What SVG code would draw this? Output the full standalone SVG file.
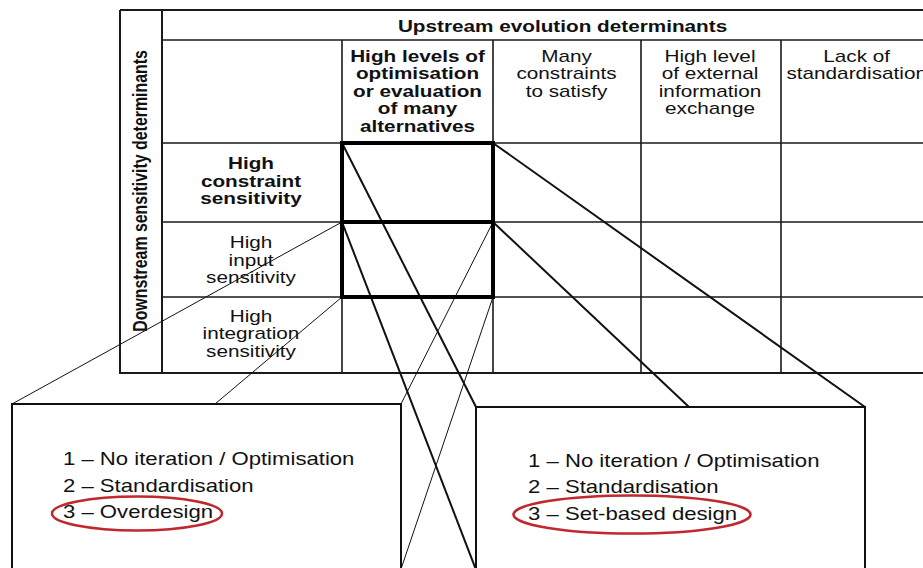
<svg xmlns="http://www.w3.org/2000/svg" width="923" height="568" viewBox="0 0 923 568">
  <style>
    .grid { stroke: #1a1a1a; stroke-width: 1.6; fill: none; }
    .frame { stroke: #1a1a1a; stroke-width: 2; fill: none; }
    .focus { stroke: #000; stroke-width: 4; fill: none; }
    .thick { stroke: #111; stroke-width: 2; fill: none; }
    .thin { stroke: #111; stroke-width: 1; fill: none; }
    .box { stroke: #111; stroke-width: 2; fill: #fff; }
    .mark { stroke: #c1272d; stroke-width: 2.6; fill: none; }
    text { font-family: "Liberation Sans", Arial, sans-serif; fill: #111; }
    .t { font-size: 16.2px; text-anchor: middle; }
    .b { font-weight: bold; }
    .list { font-size: 18.6px; }
  </style>
  <rect width="923" height="568" fill="#fff"/>

  <!-- matrix grid -->
  <g id="matrix">
    <path class="frame" d="M120,10 H923 M120,10 V373 H923 M162,10 V373"/>
    <path class="grid" d="M162,40 H923 M162,143 H923 M162,222 H923 M162,297 H923"/>
    <path class="grid" d="M342,40 V373 M493,40 V373 M641,40 V373 M781,40 V373"/>
  </g>

  <!-- output boxes -->
  <g id="box-left">
    <path class="box" d="M12,575 V404 H401 V575"/>
  </g>
  <g id="box-right">
    <path class="box" d="M476,575 V407 H865 V575"/>
  </g>

  <!-- projection lines -->
  <g id="connectors">
    <line class="thick" x1="342" y1="143" x2="476" y2="407"/>
    <line class="thick" x1="493" y1="143" x2="865" y2="407"/>
    <line class="thick" x1="342" y1="222" x2="478" y2="575"/>
    <line class="thick" x1="493" y1="222" x2="689" y2="407"/>
    <line class="thin" x1="342" y1="222" x2="12" y2="404"/>
    <line class="thin" x1="342" y1="297" x2="215" y2="404"/>
    <line class="thin" x1="493" y1="222" x2="401" y2="404"/>
    <line class="thin" x1="493" y1="297" x2="399" y2="575"/>
  </g>

  <!-- highlighted cells -->
  <g id="cell-constraint">
    <rect class="focus" x="342" y="143" width="151" height="79"/>
  </g>
  <g id="cell-input">
    <rect class="focus" x="342" y="222" width="151" height="75"/>
  </g>

  <!-- headers -->
  <g id="headers" transform="scale(1.28 1)">
    <text class="t b" x="439.5" y="32">Upstream evolution determinants</text>

    <text class="t b" x="326.2" y="62">High levels of</text>
    <text class="t b" x="326.2" y="79.5">optimisation</text>
    <text class="t b" x="326.2" y="97">or evaluation</text>
    <text class="t b" x="326.2" y="114.5">of many</text>
    <text class="t b" x="326.2" y="132">alternatives</text>

    <text class="t" x="442.6" y="62">Many</text>
    <text class="t" x="442.6" y="79.5">constraints</text>
    <text class="t" x="442.6" y="97">to satisfy</text>

    <text class="t" x="554.7" y="62">High level</text>
    <text class="t" x="554.7" y="79.5">of external</text>
    <text class="t" x="554.7" y="97">information</text>
    <text class="t" x="554.7" y="114.5">exchange</text>

    <text class="t" x="669.3" y="62">Lack of</text>
    <text class="t" x="669.3" y="79.5">standardisation</text>

    <text class="t b" x="196.1" y="169.5">High</text>
    <text class="t b" x="196.1" y="187">constraint</text>
    <text class="t b" x="196.1" y="204.5">sensitivity</text>

    <text class="t" x="196.1" y="248.5">High</text>
    <text class="t" x="196.1" y="266">input</text>
    <text class="t" x="196.1" y="283.5">sensitivity</text>

    <text class="t" x="196.1" y="322">High</text>
    <text class="t" x="196.1" y="339.5">integration</text>
    <text class="t" x="196.1" y="357">sensitivity</text>
  </g>
  <g id="row-title" transform="translate(147 191) rotate(-90) scale(1 1.28)">
    <text class="b" x="0" y="0" font-size="15.9" text-anchor="middle">Downstream sensitivity determinants</text>
  </g>

  <!-- option lists -->
  <g id="list-left" transform="scale(1.19 1)">
    <text class="list" x="52.9" y="465">1 – No iteration / Optimisation</text>
    <text class="list" x="52.9" y="492">2 – Standardisation</text>
    <text class="list" x="52.9" y="518.5">3 – Overdesign</text>
  </g>
  <ellipse class="mark" cx="137" cy="513.5" rx="85" ry="17"/>

  <g id="list-right" transform="scale(1.19 1)">
    <text class="list" x="443.7" y="467">1 – No iteration / Optimisation</text>
    <text class="list" x="443.7" y="493.5">2 – Standardisation</text>
    <text class="list" x="443.7" y="520">3 – Set-based design</text>
  </g>
  <ellipse class="mark" cx="632" cy="514.5" rx="118.5" ry="19"/>
</svg>
